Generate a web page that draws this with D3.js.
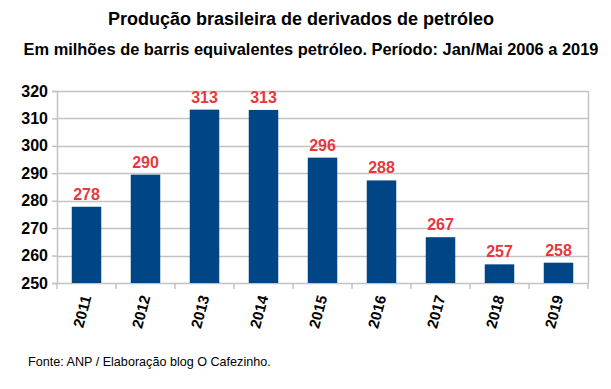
<!DOCTYPE html>
<html>
<head>
<meta charset="utf-8">
<script src="https://cdn.jsdelivr.net/npm/d3@7"></script>
<style>
  body { margin: 0; background: #fff; }
  svg { display: block; font-family: "Liberation Sans", Arial, sans-serif; }
</style>
</head>
<body>
<div id="chart"></div>
<script>
var width = 611;
var height = 389;

var years = ["2011", "2012", "2013", "2014", "2015", "2016", "2017", "2018", "2019"];
var values = [277.8, 289.5, 313.2, 313.1, 295.7, 287.4, 266.7, 256.8, 257.4];
var labels = ["278", "290", "313", "313", "296", "288", "267", "257", "258"];
var yTicks = [250, 260, 270, 280, 290, 300, 310, 320];

var plot = {left: 57, right: 588, top: 91, bottom: 283};

var svg = d3.select("#chart").append("svg")
    .attr("width", width)
    .attr("height", height);

/* Scales */
var x = d3.scaleBand()
    .domain(years)
    .range([plot.left, plot.right])
    .paddingInner(0.5)
    .paddingOuter(0.25);

var y = d3.scaleLinear()
    .domain([250, 320])
    .range([plot.bottom, plot.top]);

/* Gridlines */
svg.append("g")
    .selectAll("line")
    .data(yTicks)
    .enter().append("line")
    .attr("x1", plot.left)
    .attr("x2", plot.right)
    .attr("y1", d => Math.round(y(d)) + 0.5)
    .attr("y2", d => Math.round(y(d)) + 0.5)
    .attr("stroke", "#c3c3c3")
    .attr("stroke-width", 1.5);

svg.append("line")
    .attr("x1", plot.right + 0.5).attr("x2", plot.right + 0.5)
    .attr("y1", plot.top).attr("y2", plot.bottom)
    .attr("stroke", "#c3c3c3")
    .attr("stroke-width", 1.5);

/* Bars */
svg.append("g")
    .selectAll("rect")
    .data(values)
    .enter().append("rect")
    .attr("x", (d, i) => x(years[i]))
    .attr("width", x.bandwidth())
    .attr("y", d => y(d))
    .attr("height", d => y(250) - y(d))
    .attr("fill", "#004586");

/* Value labels */
svg.append("g")
    .selectAll("text")
    .data(values)
    .enter().append("text")
    .attr("x", (d, i) => x(years[i]) + x.bandwidth() / 2)
    .attr("y", d => y(d) - 7)
    .attr("text-anchor", "middle")
    .attr("fill", "#e8383d")
    .attr("font-weight", "bold")
    .attr("font-size", "16px")
    .text((d, i) => labels[i]);

/* Y axis */
var yAxis = svg.append("g")
    .attr("transform", `translate(${plot.left},0)`)
    .call(d3.axisLeft(y).tickValues(yTicks).tickSize(5).tickPadding(4));
yAxis.select(".domain").attr("stroke", "#c3c3c3").attr("stroke-width", 1.5);
yAxis.selectAll(".tick line").attr("stroke", "#c3c3c3").attr("stroke-width", 1.5);
yAxis.selectAll(".tick text")
    .attr("fill", "#000")
    .attr("font-size", "16px")
    .attr("font-weight", "bold")
    .attr("font-family", "Liberation Sans, Arial, sans-serif");

/* X axis: ticks at category boundaries */
var step = x.step();
var bounds = years.map((d, i) => plot.left + i * step).concat([plot.right]);
svg.append("g")
    .selectAll("line")
    .data(bounds)
    .enter().append("line")
    .attr("x1", d => d).attr("x2", d => d)
    .attr("y1", plot.bottom).attr("y2", plot.bottom + 6)
    .attr("stroke", "#c3c3c3")
    .attr("stroke-width", 1.5);

svg.append("g")
    .selectAll("text")
    .data(years)
    .enter().append("text")
    .attr("transform", d => `translate(${x(d) + x.bandwidth() / 2 + 5},${plot.bottom + 14}) rotate(-75)`)
    .attr("text-anchor", "end")
    .attr("font-size", "15px")
    .attr("font-weight", "bold")
    .attr("fill", "#000")
    .text(d => d);

/* Titles */
svg.append("text")
    .attr("x", 301)
    .attr("y", 25)
    .attr("text-anchor", "middle")
    .attr("font-size", "18px")
    .attr("font-weight", "bold")
    .text("Produção brasileira de derivados de petróleo");

svg.append("text")
    .attr("x", 311)
    .attr("y", 55)
    .attr("text-anchor", "middle")
    .attr("font-size", "16.4px")
    .attr("font-weight", "bold")
    .text("Em milhões de barris equivalentes petróleo. Período: Jan/Mai 2006 a 2019");

svg.append("text")
    .attr("x", 28)
    .attr("y", 366)
    .attr("font-size", "12.6px")
    .attr("fill", "#000")
    .text("Fonte: ANP / Elaboração blog O Cafezinho.");
</script>
</body>
</html>
